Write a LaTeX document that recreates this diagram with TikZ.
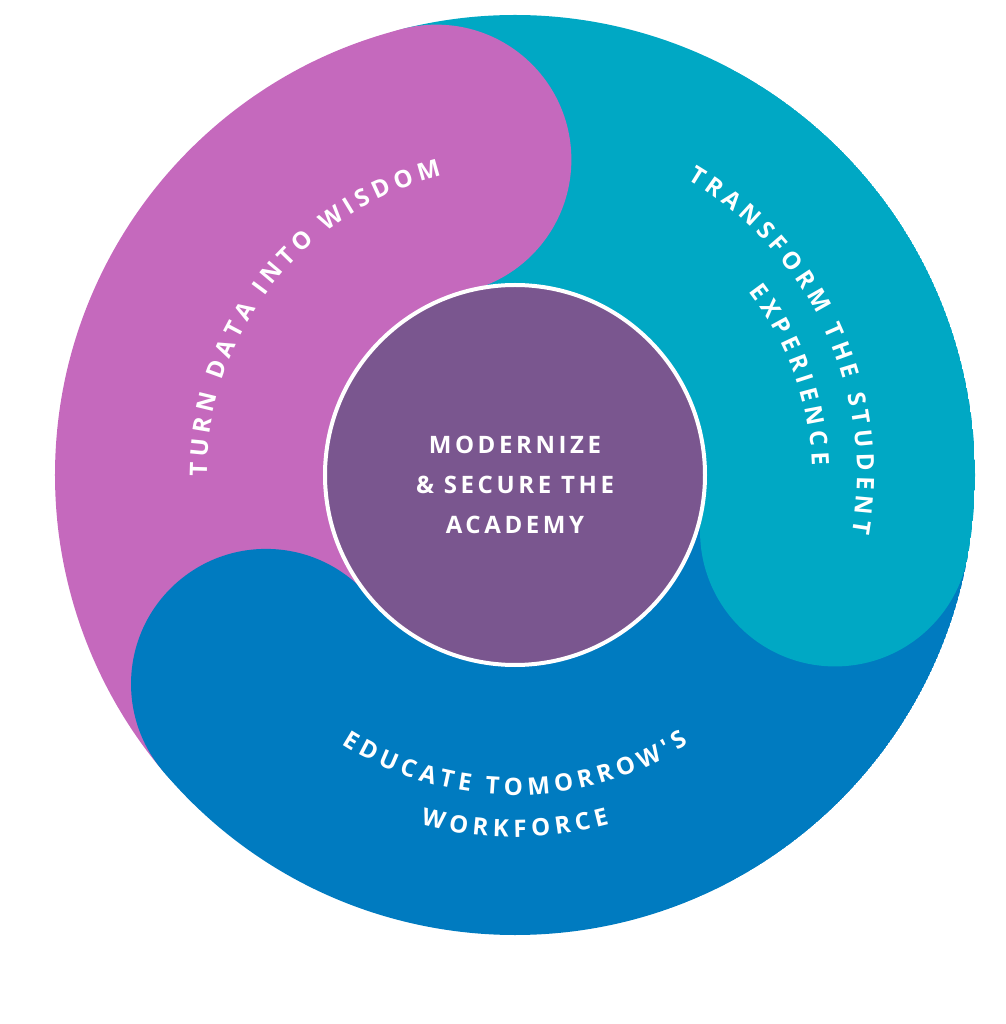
\documentclass[tikz,border=0pt]{standalone}
\usepackage{fontspec}
\newfontfamily\lab[LetterSpace=15]{Open Sans}
\usetikzlibrary{decorations.text}
\definecolor{cmag}{HTML}{C569BD}
\definecolor{cteal}{HTML}{00A8C4}
\definecolor{cblue}{HTML}{007BC0}
\definecolor{cpur}{HTML}{7A568F}
\tikzset{
  arctext/.style={decorate, decoration={text along path, text align=center, text={|\lab\bfseries\fontsize{24}{28}\selectfont\color{white}|#1}}}
}
\begin{document}
\begin{tikzpicture}[x=1pt,y=1pt]
\useasboundingbox (-515,-549) rectangle (490,475);
\def\R{460}\def\r{190}\def\m{325}\def\c{135}
\begin{scope}
\clip (0,0) circle[radius=\R];
\fill[cmag] (104:\R) arc[start angle=104,end angle=220,radius=\R] -- (220:\r) arc[start angle=220,end angle=104,radius=\r] -- cycle;
\fill[cteal] (-10:\R) arc[start angle=-10,end angle=104,radius=\R] -- (104:\r) arc[start angle=104,end angle=-10,radius=\r] -- cycle;
\fill[cblue] (220:\R) arc[start angle=220,end angle=350,radius=\R] -- (350:\r) arc[start angle=350,end angle=220,radius=\r] -- cycle;
\fill[cmag] (104:\m) circle[radius=\c];
\fill[cteal] (-10:\m) circle[radius=\c];
\fill[cblue] (220:\m) circle[radius=\c];
\end{scope}
\node[circle, fill=cpur, draw=white, line width=4pt, minimum size=380pt, inner sep=0pt] (core) at (0,0) {};
\node[text=white, align=center, font=\lab\bfseries\fontsize{24}{40}\selectfont] (coretxt) at (0,-10) {MODERNIZE\\\& SECURE THE\\ACADEMY};
\path[arctext={{T\kern5pt}{U\kern5pt}{R\kern5pt}{N\kern5pt} {D\kern5pt}{A\kern5pt}{T\kern5pt}{A\kern5pt} {I\kern5pt}{N\kern5pt}{T\kern5pt}{O\kern5pt} {W\kern5pt}{I\kern5pt}{S\kern5pt}{D\kern5pt}{O\kern5pt}{M}}] (215:308) arc[start angle=215,end angle=69,radius=308];
\path[arctext={{T\kern5pt}{R\kern5pt}{A\kern5pt}{N\kern5pt}{S\kern5pt}{F\kern5pt}{O\kern5pt}{R\kern5pt}{M\kern5pt} {T\kern5pt}{H\kern5pt}{E\kern5pt} {S\kern5pt}{T\kern5pt}{U\kern5pt}{D\kern5pt}{E\kern5pt}{N\kern5pt}{T}}] (100:342) arc[start angle=100,end angle=-50,radius=342];
\path[arctext={{E\kern5pt}{X\kern5pt}{P\kern5pt}{E\kern5pt}{R\kern5pt}{I\kern5pt}{E\kern5pt}{N\kern5pt}{C\kern5pt}{E}}] (80:297) arc[start angle=80,end angle=-40,radius=297];
\path[arctext={{E\kern5pt}{D\kern5pt}{U\kern5pt}{C\kern5pt}{A\kern5pt}{T\kern5pt}{E\kern5pt} {T\kern5pt}{O\kern5pt}{M\kern5pt}{O\kern5pt}{R\kern5pt}{R\kern5pt}{O\kern5pt}{W\kern5pt}{'\kern5pt}{S}}] (195:320) arc[start angle=195,end angle=345,radius=320];
\path[arctext={{W\kern5pt}{O\kern5pt}{R\kern5pt}{K\kern5pt}{F\kern5pt}{O\kern5pt}{R\kern5pt}{C\kern5pt}{E}}] (225:362) arc[start angle=225,end angle=315,radius=362];
\end{tikzpicture}
\end{document}
